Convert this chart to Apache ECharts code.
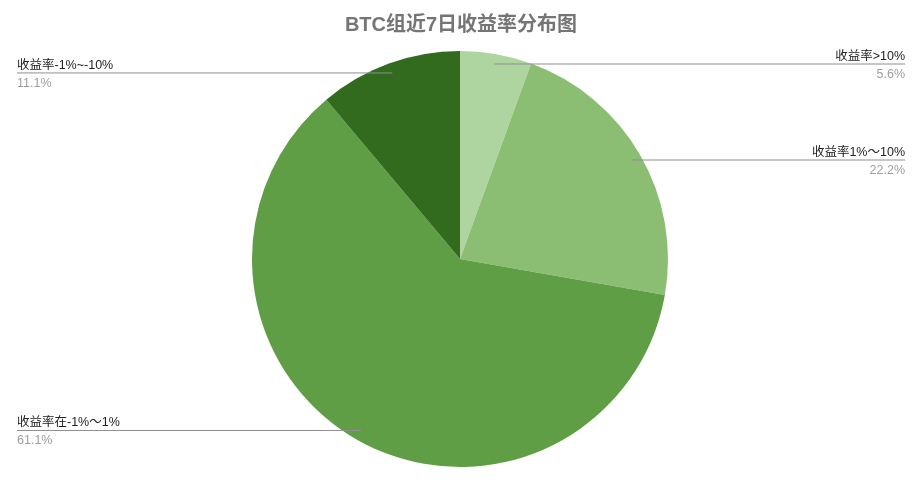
<!DOCTYPE html>
<html>
<head>
	<meta charset="UTF-8">
	<script type="text/javascript" src="https://cdn.jsdelivr.net/npm/echarts@6/dist/echarts.min.js"></script>
	<title></title>
	<style type="text/css">
		html,body{margin:0;padding:0;background:#fff}
		#pie_box{width:922px;height:486px}
	</style>
</head>
<body>
<div id="pie_box"></div>
<script type="text/javascript">
// 数据
var chartTitle = 'BTC组近7日收益率分布图';
var categories = ['收益率>10%', '收益率1%～10%', '收益率在-1%～1%', '收益率-1%~-10%'];
var counts = [1, 4, 11, 2];
var colors = ['#aed4a0', '#8bbe72', '#5f9e45', '#326a1e'];

var pie_box = echarts.init(document.getElementById('pie_box'));
var W = pie_box.getWidth();

var pieData = [];
var labelData = [];
for (var i = 0; i < categories.length; i++) {
	pieData.push({name: categories[i], value: counts[i], itemStyle: {color: colors[i]}});
	labelData.push({name: categories[i], value: counts[i]});
}

var option = {
	animation: false,
	title: {
		text: chartTitle,
		left: 'center',
		top: 10,
		textStyle: {fontFamily: 'Liberation Sans, Noto Sans CJK SC', fontSize: 20, fontWeight: 'bold', color: '#757575'}
	},
	series: [
		{
			type: 'pie',
			z: 1,
			center: [460, 259],
			radius: 208,
			startAngle: 90,
			silent: true,
			label: {show: false},
			labelLine: {show: false},
			itemStyle: {borderWidth: 0},
			data: pieData
		},
		{
			// 只用来放标签，线从饼内部出发
			type: 'pie',
			z: 5,
			center: [460, 259],
			radius: 198,
			startAngle: 90,
			silent: true,
			itemStyle: {color: 'rgba(0,0,0,0)'},
			label: {
				show: true,
				position: 'outside',
				formatter: function (p) {
					return '{n|' + p.name + '}\n{p|' + p.percent.toFixed(1) + '%}';
				},
				rich: {
					n: {fontFamily: 'Liberation Sans, Noto Sans CJK SC', fontSize: 12.5, color: '#222', lineHeight: 19},
					p: {fontFamily: 'Liberation Sans, Noto Sans CJK SC', fontSize: 12.5, color: '#9e9e9e', lineHeight: 17}
				}
			},
			labelLine: {show: true, length: 0, length2: 20, smooth: false, lineStyle: {color: '#8f8f8f', width: 1}},
			labelLayout: function (params) {
				var pts = params.labelLinePoints;
				if (!pts) return {};
				var start = pts[0];
				var right = start[0] > 460;
				var edge = right ? W - 17 : 17;
				return {
					x: edge,
					y: start[1] + 1,
					align: right ? 'right' : 'left',
					verticalAlign: 'middle',
					labelLinePoints: [start, start, [edge, start[1]]]
				};
			},
			data: labelData
		}
	]
};
pie_box.setOption(option);
</script>
</body>
</html>
